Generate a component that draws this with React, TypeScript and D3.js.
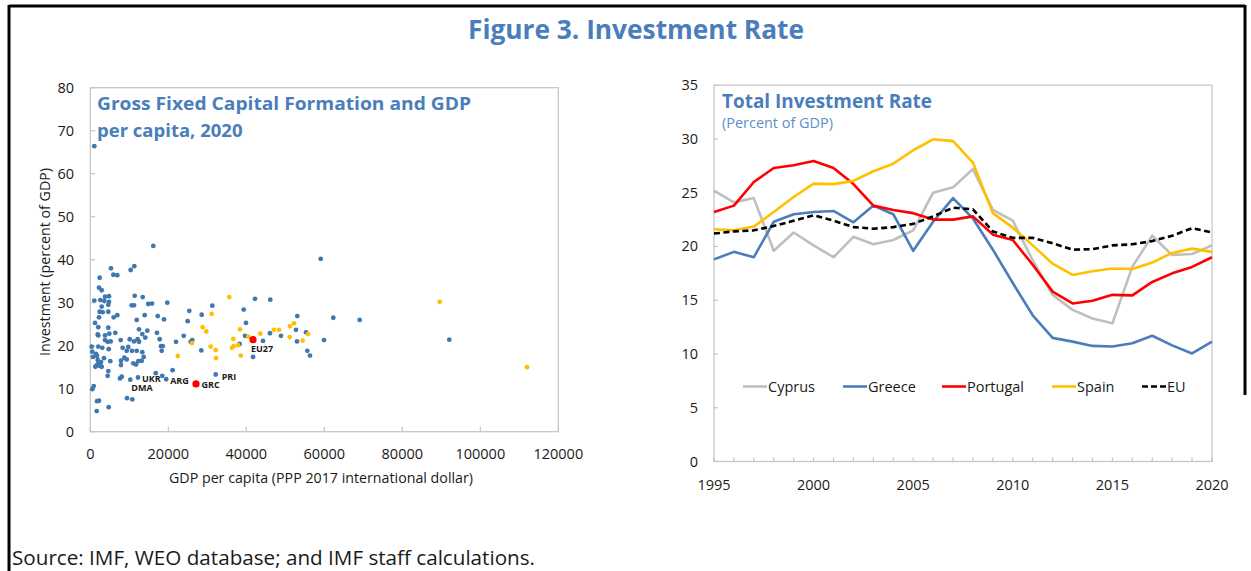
import React from "react";
import * as d3 from "d3";

// ---------- DATA ----------
// Scatter: [GDP per capita (PPP 2017 intl $), investment (% of GDP)]
const otherCountries: [number, number][] = [
  [1030, 66.4], [16150, 43.2], [59080, 40.2], [5300, 38.0], [11280, 38.5], [10350, 37.6],
  [5900, 36.5], [6920, 36.4], [2400, 35.8], [2230, 33.5], [2920, 32.9], [1030, 30.5],
  [2560, 30.6], [3770, 31.4], [4790, 31.5], [11380, 31.6], [13430, 31.3], [3590, 30.4],
  [4790, 30.2], [14870, 29.7], [15820, 29.8], [19740, 30.0], [10610, 29.4], [11200, 29.4],
  [2920, 29.1], [4620, 29.5], [2400, 27.9], [3180, 27.8], [4620, 27.9], [6920, 27.1],
  [6000, 26.6], [2230, 26.6], [11900, 26.0], [13950, 27.1], [17280, 26.9], [18900, 26.1],
  [1200, 25.3], [2050, 24.3], [4620, 24.2], [12490, 23.8], [14620, 23.5], [1900, 22.6],
  [2050, 22.4], [3770, 22.4], [4870, 22.8], [6410, 23.0], [17100, 23.0], [13330, 22.7],
  [14100, 21.9], [7790, 21.3], [3770, 21.3], [4450, 20.9], [5230, 21.0], [10100, 21.5],
  [11200, 21.0], [12150, 21.5], [12490, 20.9], [17790, 21.5], [360, 19.8], [2050, 19.8],
  [3080, 19.5], [4720, 19.2], [8300, 19.5], [9740, 19.7], [9330, 18.8], [10690, 18.8],
  [11900, 18.8], [13330, 18.5], [18130, 19.9], [18560, 19.9], [18300, 18.8], [21970, 20.9],
  [510, 18.6], [690, 17.4], [1720, 17.6], [1460, 18.1], [1900, 16.7], [2050, 15.9],
  [2740, 16.2], [1640, 15.4], [2490, 15.3], [1280, 15.1], [2920, 15.1], [3510, 17.1],
  [5130, 16.4], [7870, 16.5], [7870, 15.5], [8720, 17.2], [9330, 16.8], [11030, 15.9],
  [11720, 15.6], [12310, 16.4], [13180, 16.5], [13690, 17.4], [4620, 14.1], [4450, 13.0],
  [7620, 12.4], [8050, 12.8], [10260, 12.1], [12230, 12.6], [16770, 13.6], [18460, 13.0],
  [19450, 12.2], [21100, 14.3], [870, 10.6], [510, 9.9], [1720, 7.1], [2230, 7.2],
  [9410, 7.8], [10770, 7.5], [1640, 4.8], [4720, 5.7],
  [42230, 30.9], [46150, 30.7], [31280, 29.3], [25380, 28.1], [39330, 28.4], [28560, 27.2],
  [53080, 26.9], [24970, 25.7], [39920, 25.3], [52740, 23.7], [46070, 22.9], [48890, 22.3],
  [55310, 23.1], [39670, 22.3], [44280, 21.1], [53000, 21.0], [59920, 21.3], [23950, 22.3],
  [26150, 21.3], [25740, 20.9], [38300, 20.4], [28460, 18.9], [41720, 17.4], [55640, 18.8],
  [56330, 17.7], [32150, 13.3], [62310, 26.5], [69070, 26.0], [92050, 21.4],
];
const euCountries: [number, number][] = [
  [22450, 17.6], [35640, 31.3], [31130, 27.4], [52230, 25.2], [28820, 24.3], [29740, 23.3],
  [51200, 24.5], [38380, 23.8], [47100, 23.7], [48380, 23.7], [43590, 22.8], [55820, 22.7],
  [51120, 22.0], [40510, 22.1], [36670, 21.6], [54460, 21.2], [26080, 20.6], [37870, 20.1],
  [36760, 19.9], [36330, 19.5], [30870, 19.8], [32150, 19.0], [38560, 17.7], [32230, 17.1],
  [89580, 30.2], [111970, 15.0],
];
const highlighted: [number, number][] = [[27100, 11.1], [41720, 21.4]];
const labelNames = ["UKR", "DMA", "ARG", "GRC", "PRI", "EU27"];
const labelPoints: [number, number][] = [
  [12230, 12.6], [10260, 12.1], [19450, 12.2], [27100, 11.1], [32150, 13.3], [41720, 21.4],
];
const scatterXTicks = [0, 20000, 40000, 60000, 80000, 100000, 120000];
const scatterYTicks = [0, 10, 20, 30, 40, 50, 60, 70, 80];

// Line chart
const years = d3.range(1995, 2021);
const cyprus = [25.2, 24.1, 24.5, 19.6, 21.3, 20.1, 19.0, 20.9, 20.2, 20.6, 21.5, 25.0, 25.5, 27.2, 23.4, 22.4, 18.7, 15.5, 14.1, 13.3, 12.85, 18.1, 21.0, 19.2, 19.3, 20.1];
const greece = [18.8, 19.5, 19.0, 22.3, 23.0, 23.2, 23.3, 22.25, 23.8, 23.0, 19.6, 22.3, 24.5, 22.6, 19.7, 16.6, 13.6, 11.5, 11.15, 10.75, 10.7, 11.0, 11.7, 10.8, 10.05, 11.15];
const portugal = [23.2, 23.8, 26.0, 27.3, 27.55, 27.95, 27.3, 25.8, 23.8, 23.4, 23.1, 22.5, 22.5, 22.8, 21.1, 20.6, 18.3, 15.8, 14.7, 14.95, 15.5, 15.45, 16.7, 17.5, 18.1, 19.0];
const spain = [21.6, 21.5, 21.85, 23.2, 24.6, 25.85, 25.8, 26.1, 27.0, 27.7, 28.95, 29.97, 29.8, 27.8, 23.1, 21.75, 20.1, 18.4, 17.35, 17.7, 17.95, 17.9, 18.5, 19.4, 19.8, 19.5];
const eu = [21.2, 21.4, 21.5, 21.9, 22.4, 22.9, 22.4, 21.8, 21.65, 21.8, 22.1, 22.8, 23.6, 23.45, 21.4, 20.8, 20.8, 20.3, 19.7, 19.75, 20.1, 20.2, 20.5, 21.0, 21.7, 21.3];
const seriesNames = ["Cyprus", "Greece", "Portugal", "Spain", "EU"];
const seriesValues = [cyprus, greece, portugal, spain, eu];
const lineYTicks = [0, 5, 10, 15, 20, 25, 30, 35];
const lineXLabels = [1995, 2000, 2005, 2010, 2015, 2020];

// ---------- STYLE ----------
const FONT = "'Open Sans', 'Noto Sans', sans-serif";
const TITLE_BLUE = "#4A7EBB";
const AXIS_GRAY = "#c4c4c4";
const TEXT = "#1a1a1a";
const DOT_BLUE = "#3F78AE";
const YELLOW = "#FFC000";
const RED = "#FF0000";
const seriesColors = ["#BFBFBF", "#4A7EBB", "#FF0000", "#FFC000", "#000000"];
const labelOffsets: [number, number][] = [[4, 4.5], [1, 11.5], [4, 5], [5.5, 3.8], [6, 5], [-2, 12]];

export default function App() {
  // Scatter scales
  const sx = d3.scaleLinear().domain([0, 120000]).range([90.3, 558.3]);
  const sy = d3.scaleLinear().domain([0, 80]).range([431.7, 87.7]);
  // Line scales
  const lx = d3.scaleLinear().domain([1995, 2020]).range([714, 1212]);
  const ly = d3.scaleLinear().domain([0, 35]).range([461.5, 85.2]);
  const line = d3
    .line<number>()
    .x((_, i) => lx(years[i]))
    .y((d) => ly(d));

  const legendX = [743, 843, 942, 1052, 1142];

  return (
    <svg
      width={1251}
      height={571}
      style={{ position: "absolute", left: 0, top: 0, background: "#fff" }}
      fontFamily={FONT}
    >
      <rect x={0} y={0} width={1251} height={571} fill="#fff" />
      {/* outer black frame */}
      <line x1={9} y1={6} x2={1245} y2={6} stroke="#000" strokeWidth={3} />
      <line x1={9} y1={5} x2={9} y2={571} stroke="#000" strokeWidth={3} />
      <line x1={1245} y1={5} x2={1245} y2={395} stroke="#000" strokeWidth={3} />

      <text x={636} y={39} textAnchor="middle" fontSize={26} fontWeight={700} fill={TITLE_BLUE} textLength={336} lengthAdjust="spacingAndGlyphs">
        Figure 3. Investment Rate
      </text>

      {/* ---------- Scatter ---------- */}
      <rect x={sx(0)} y={sy(80)} width={sx(120000) - sx(0)} height={sy(0) - sy(80)} fill="none" stroke={AXIS_GRAY} strokeWidth={1.2} />
      {scatterXTicks.map((t) => (
        <g key={"sxt" + t}>
          <line x1={sx(t)} x2={sx(t)} y1={sy(0)} y2={sy(0) - 5} stroke={AXIS_GRAY} strokeWidth={1.2} />
          <text x={sx(t)} y={459} textAnchor="middle" fontSize={14.5} fill={TEXT}>{t}</text>
        </g>
      ))}
      {scatterYTicks.map((t) => (
        <g key={"syt" + t}>
          <line x1={sx(0)} x2={sx(0) + 5} y1={sy(t)} y2={sy(t)} stroke={AXIS_GRAY} strokeWidth={1.2} />
          <text x={74} y={sy(t) + 5} textAnchor="end" fontSize={14.5} fill={TEXT}>{t}</text>
        </g>
      ))}
      <text x={321} y={483} textAnchor="middle" fontSize={14} fill={TEXT} textLength={304} lengthAdjust="spacingAndGlyphs">
        GDP per capita (PPP 2017 international dollar)
      </text>
      <text transform="translate(50,262) rotate(-90)" textAnchor="middle" fontSize={14} fill={TEXT} textLength={188} lengthAdjust="spacingAndGlyphs">
        Investment (percent of GDP)
      </text>
      <text x={97} y={110} fontSize={18.5} fontWeight={700} fill={TITLE_BLUE} textLength={374} lengthAdjust="spacingAndGlyphs">
        Gross Fixed Capital Formation and GDP
      </text>
      <text x={97} y={137} fontSize={18.5} fontWeight={700} fill={TITLE_BLUE}>
        per capita, 2020
      </text>
      {otherCountries.map((d, i) => (
        <circle key={"o" + i} cx={sx(d[0])} cy={sy(d[1])} r={2.4} fill={DOT_BLUE} />
      ))}
      {euCountries.map((d, i) => (
        <circle key={"e" + i} cx={sx(d[0])} cy={sy(d[1])} r={2.4} fill={YELLOW} />
      ))}
      {highlighted.map((d, i) => (
        <circle key={"h" + i} cx={sx(d[0])} cy={sy(d[1])} r={3.6} fill={RED} />
      ))}
      {labelNames.map((n, i) => (
        <text key={n} x={sx(labelPoints[i][0]) + labelOffsets[i][0]} y={sy(labelPoints[i][1]) + labelOffsets[i][1]} fontSize={9} fontWeight={700} fill={TEXT}>
          {n}
        </text>
      ))}

      {/* ---------- Line chart ---------- */}
      <rect x={lx(1995)} y={ly(35)} width={lx(2020) - lx(1995)} height={ly(0) - ly(35)} fill="none" stroke={AXIS_GRAY} strokeWidth={1.2} />
      {years.map((y) => (
        <line key={"lxt" + y} x1={lx(y)} x2={lx(y)} y1={ly(0)} y2={ly(0) - 4} stroke={AXIS_GRAY} strokeWidth={1.2} />
      ))}
      {lineXLabels.map((y) => (
        <text key={"lxl" + y} x={lx(y)} y={490} textAnchor="middle" fontSize={14.5} fill={TEXT}>{y}</text>
      ))}
      {lineYTicks.map((t) => (
        <g key={"lyt" + t}>
          <line x1={lx(1995)} x2={lx(1995) + 4} y1={ly(t)} y2={ly(t)} stroke={AXIS_GRAY} strokeWidth={1.2} />
          <text x={698} y={ly(t) + 5} textAnchor="end" fontSize={14.5} fill={TEXT}>{t}</text>
        </g>
      ))}
      <text x={722} y={108} fontSize={19} fontWeight={700} fill={TITLE_BLUE} textLength={210} lengthAdjust="spacingAndGlyphs">
        Total Investment Rate
      </text>
      <text x={722} y={128} fontSize={14} fill="#5B8FC9" textLength={111} lengthAdjust="spacingAndGlyphs">
        (Percent of GDP)
      </text>
      {seriesValues.map((vals, i) => (
        <path
          key={seriesNames[i]}
          d={line(vals) || ""}
          fill="none"
          stroke={seriesColors[i]}
          strokeWidth={2.6}
          strokeDasharray={seriesNames[i] === "EU" ? "6,3.5" : undefined}
          strokeLinejoin="round"
        />
      ))}
      {seriesNames.map((n, i) => (
        <g key={"lg" + n}>
          <line
            x1={legendX[i]}
            x2={legendX[i] + 24}
            y1={386.5}
            y2={386.5}
            stroke={seriesColors[i]}
            strokeWidth={2.6}
            strokeDasharray={n === "EU" ? "6,3" : undefined}
          />
          <text x={legendX[i] + 25} y={392} fontSize={14.5} fill={TEXT}>{n}</text>
        </g>
      ))}

      <text x={12} y={565} fontSize={19.5} fill={TEXT} textLength={523} lengthAdjust="spacingAndGlyphs">
        Source: IMF, WEO database;  and IMF staff calculations.
      </text>
    </svg>
  );
}
